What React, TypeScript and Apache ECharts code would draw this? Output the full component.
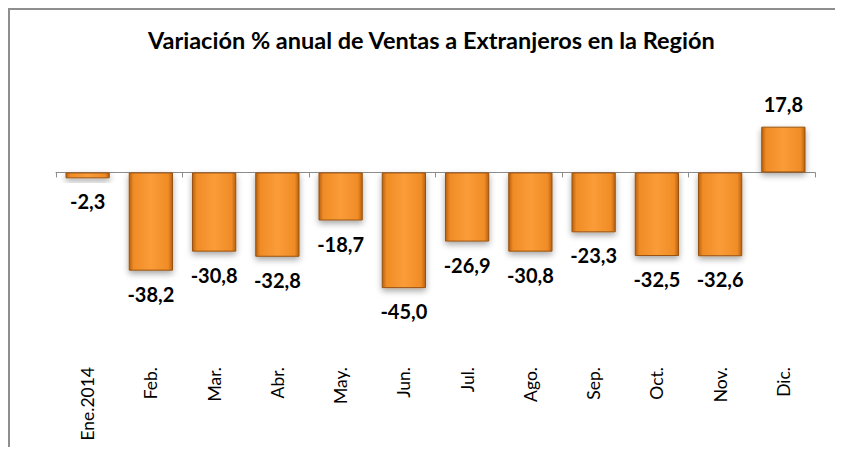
import React, { useEffect, useRef } from "react";
import * as echarts from "echarts";

const categories = ["Ene.2014", "Feb.", "Mar.", "Abr.", "May.", "Jun.", "Jul.", "Ago.", "Sep.", "Oct.", "Nov.", "Dic."];
const values = [-2.3, -38.2, -30.8, -32.8, -18.7, -45.0, -26.9, -30.8, -23.3, -32.5, -32.6, 17.8];
const titleText = "Variación % anual de Ventas a Extranjeros en la Región";

export default function App() {
  const ref = useRef<HTMLDivElement>(null);
  useEffect(() => {
    if (!ref.current) return;
    document.documentElement.style.overflow = "hidden";
    const chart = echarts.init(ref.current, undefined, { renderer: "svg" });
    const barColor = new echarts.graphic.LinearGradient(0, 0, 1, 0, [
      { offset: 0, color: "#B8600F" },
      { offset: 0.1, color: "#F08C26" },
      { offset: 0.5, color: "#FA9C38" },
      { offset: 0.9, color: "#F08C26" },
      { offset: 1, color: "#B8600F" },
    ]);
    chart.setOption({
      animation: false,
      title: {
        text: titleText,
        left: 133,
        top: 13,
        textStyle: { fontFamily: "Lato", fontWeight: "bold", fontSize: 23.5, color: "#000" },
      },
      grid: { left: 46, right: 20, top: 111, height: 180, containLabel: false },
      xAxis: [
        {
          type: "category",
          data: categories,
          axisLine: { onZero: true, lineStyle: { color: "#8c8c8c", width: 1 } },
          axisTick: { show: true, length: 5, lineStyle: { color: "#8c8c8c" } },
          axisLabel: { show: false },
        },
        {
          type: "category",
          data: categories,
          position: "bottom",
          axisLine: { show: false, onZero: false },
          axisTick: { show: false },
          axisLabel: {
            rotate: 90,
            margin: 66,
            fontFamily: "Lato",
            fontSize: 17.5,
            color: "#000",
            interval: 0,
          },
        },
      ],
      yAxis: {
        type: "value",
        min: -50,
        max: 20,
        show: false,
        splitLine: { show: false },
      },
      series: [
        {
          type: "bar",
          data: values,
          barWidth: "70%",
          itemStyle: {
            color: barColor,
            borderColor: "#9A5210",
            borderWidth: 1,
            shadowColor: "rgba(0,0,0,0.35)",
            shadowBlur: 6,
            shadowOffsetY: 3,
          },
          label: {
            show: true,
            position: "outside",
            distance: 13,
            fontFamily: "Lato",
            fontWeight: "bold",
            fontSize: 20,
            color: "#000",
            formatter: (p: any) => p.value.toFixed(1).replace(".", ","),
          },
        },
      ],
    });
    return () => chart.dispose();
  }, []);
  return (
    <div
      ref={ref}
      style={{
        width: 825,
        height: 437,
        borderTop: "2px solid #8e8e8e",
        borderLeft: "2px solid #8e8e8e",
      }}
    />
  );
}
